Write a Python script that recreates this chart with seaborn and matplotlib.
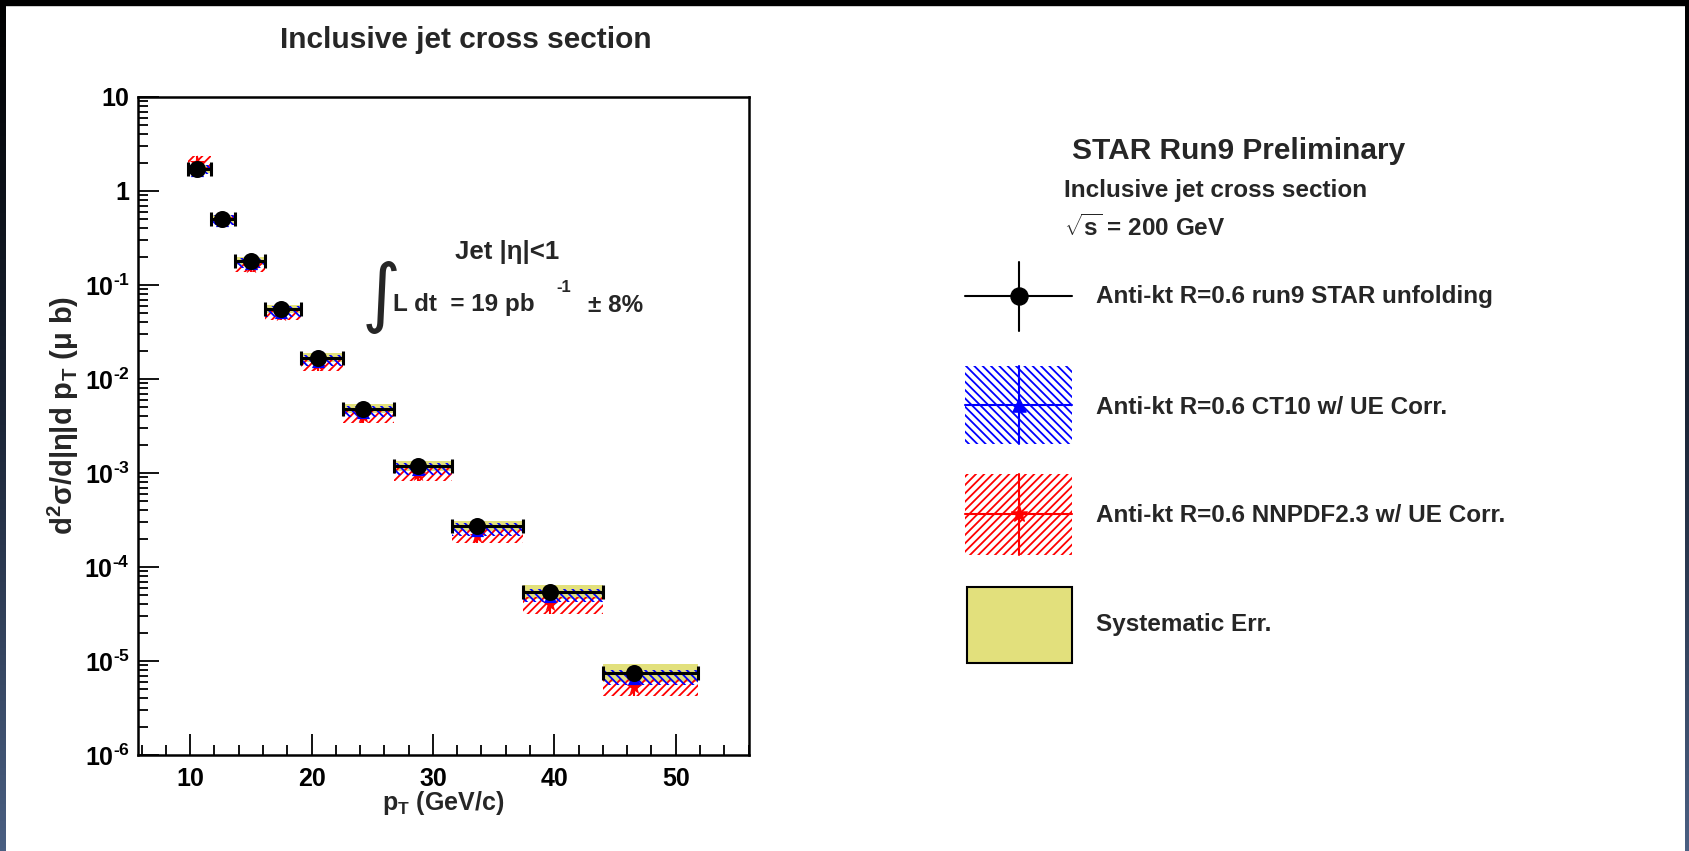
import numpy as np
import matplotlib
matplotlib.use("Agg")
import matplotlib.pyplot as plt
from matplotlib.patches import Rectangle
from matplotlib.colors import LinearSegmentedColormap
from matplotlib.ticker import MultipleLocator, LogLocator, FixedLocator, FuncFormatter, NullFormatter
import seaborn as sns

W, H = 1690, 851

# ── Data ─────────────────────────────────────────────────────────────────────
pt = [10.55, 12.61, 15.0, 17.47, 20.52, 24.23, 28.76, 33.62, 39.64, 46.56]
bin_lo = [9.81, 11.75, 13.72, 16.2, 19.16, 22.62, 26.83, 31.6, 37.38, 43.97]
bin_hi = [11.75, 13.72, 16.2, 19.16, 22.62, 26.83, 31.6, 37.38, 43.97, 51.84]

xsec = [1.71, 0.504, 0.180, 0.0556, 0.0167, 0.0048, 0.00119, 2.73e-4, 5.42e-5, 7.45e-6]
syst_lo = [1.55, 0.46, 0.163, 0.050, 0.0150, 0.0043, 0.00106, 2.40e-4, 4.6e-5, 6.0e-6]
syst_hi = [1.90, 0.56, 0.198, 0.062, 0.0187, 0.0054, 0.00135, 3.10e-4, 6.4e-5, 9.3e-6]

ct10 = [1.68, 0.49, 0.170, 0.052, 0.0156, 0.0045, 0.00110, 2.50e-4, 4.9e-5, 6.6e-6]
ct10_lo = [1.50, 0.44, 0.150, 0.046, 0.0138, 0.0039, 0.00095, 2.15e-4, 4.2e-5, 5.6e-6]
ct10_hi = [1.90, 0.56, 0.195, 0.060, 0.0180, 0.0052, 0.00128, 2.95e-4, 5.9e-5, 8.0e-6]

nnpdf = [2.0, 0.50, 0.160, 0.049, 0.0143, 0.0040, 0.00098, 2.15e-4, 4.0e-5, 5.3e-6]
nnpdf_lo = [1.75, 0.44, 0.138, 0.042, 0.0122, 0.0034, 0.00082, 1.80e-4, 3.2e-5, 4.2e-6]
nnpdf_hi = [2.35, 0.57, 0.183, 0.056, 0.0166, 0.0047, 0.00115, 2.55e-4, 4.8e-5, 6.5e-6]

y_decades = [1e-6, 1e-5, 1e-4, 1e-3, 1e-2, 1e-1, 1, 10]

legend_labels = [
    "Anti-kt R=0.6 run9 STAR unfolding",
    "Anti-kt R=0.6 CT10 w/ UE Corr.",
    "Anti-kt R=0.6 NNPDF2.3 w/ UE Corr.",
    "Systematic Err.",
]

SYST_YELLOW = "#e2e07c"

# ── Style ────────────────────────────────────────────────────────────────────
sns.set_style("ticks")
plt.rcParams["font.family"] = ["Liberation Sans", "DejaVu Sans"]
plt.rcParams["font.weight"] = "bold"
plt.rcParams["mathtext.fontset"] = "custom"
plt.rcParams["mathtext.rm"] = "Liberation Sans:bold"
plt.rcParams["mathtext.it"] = "Liberation Sans:bold"
plt.rcParams["mathtext.bf"] = "Liberation Sans:bold"
plt.rcParams["hatch.linewidth"] = 1.3


def fx(px):
    return px / W


def fy(py):
    return 1 - py / H


fig = plt.figure(figsize=(W / 100, H / 100), dpi=100)
fig.patch.set_facecolor("white")

# background layer in pixel coords: screenshot frame + legend panel
bg = fig.add_axes([0, 0, 1, 1], zorder=0)
bg.set_facecolor("none")
edge_cmap = LinearSegmentedColormap.from_list("edge", ["#000000", "#1c2638", "#4a5f82"])
grad = np.linspace(0, 1, 256)[:, None]
bg.imshow(grad, extent=(0, 6, H, 0), cmap=edge_cmap, aspect="auto")
bg.imshow(grad, extent=(1685, W, H, 0), cmap=edge_cmap, aspect="auto")
bg.add_patch(Rectangle((0, 0), W, 5, color="black"))
bg.set_xlim(0, W)
bg.set_ylim(H, 0)
bg.axis("off")

# ── Main panel ───────────────────────────────────────────────────────────────
ax = fig.add_axes([fx(138), fy(755), fx(749) - fx(138), fy(97) - fy(755)], zorder=2)

lo = np.array(bin_lo)
hi = np.array(bin_hi)
widths = hi - lo
ptv = np.array(pt)

ax.bar(lo, np.array(syst_hi) - np.array(syst_lo), bottom=syst_lo, width=widths,
       align="edge", color=SYST_YELLOW, linewidth=0, zorder=2)
ax.bar(lo, np.array(nnpdf_hi) - np.array(nnpdf_lo), bottom=nnpdf_lo, width=widths,
       align="edge", facecolor="none", edgecolor="red", hatch="////", linewidth=0, zorder=3)
ax.bar(lo, np.array(ct10_hi) - np.array(ct10_lo), bottom=ct10_lo, width=widths,
       align="edge", facecolor="none", edgecolor="blue", hatch="\\\\\\\\", linewidth=0, zorder=3)

ax.errorbar(ptv, nnpdf, yerr=[np.array(nnpdf) - np.array(nnpdf_lo), np.array(nnpdf_hi) - np.array(nnpdf)],
            fmt="none", ecolor="red", elinewidth=1.5, zorder=4)
ax.errorbar(ptv, ct10, yerr=[np.array(ct10) - np.array(ct10_lo), np.array(ct10_hi) - np.array(ct10)],
            fmt="none", ecolor="blue", elinewidth=1.5, zorder=4)
sns.scatterplot(x=pt, y=nnpdf, ax=ax, marker="*", s=140, color="red", edgecolor="red",
                linewidth=0, zorder=5, legend=False)
sns.scatterplot(x=pt, y=ct10, ax=ax, marker="^", s=90, color="blue", edgecolor="blue",
                linewidth=0, zorder=5, legend=False)

ax.errorbar(ptv, xsec, xerr=[ptv - lo, hi - ptv], fmt="none", ecolor="black",
            elinewidth=2.2, capsize=5, capthick=2.2, zorder=6)
sns.scatterplot(x=pt, y=xsec, ax=ax, marker="o", s=150, color="black", edgecolor="black",
                linewidth=0, zorder=7, legend=False)

ax.set_yscale("log")
ax.set_ylim(1e-6, 10)
ax.set_xlim(5.7, 56.04)
ax.set_xlabel("")
ax.set_ylabel("")

ax.xaxis.set_major_locator(MultipleLocator(10))
ax.xaxis.set_minor_locator(MultipleLocator(2))
ax.yaxis.set_major_locator(FixedLocator(y_decades))
ax.yaxis.set_minor_locator(LogLocator(base=10, subs=np.arange(2, 10), numticks=20))
ax.yaxis.set_minor_formatter(NullFormatter())


def ylab(v, pos):
    e = int(round(np.log10(v)))
    if e == 1:
        return "10"
    if e == 0:
        return "1"
    return r"$\mathbf{10^{\text{-}%d}}$" % (-e)


ax.yaxis.set_major_formatter(FuncFormatter(ylab))
ax.tick_params(which="both", direction="in", top=False, right=False, width=1.3,
               colors="black", labelsize=18)
ax.tick_params(which="major", length=15)
ax.tick_params(which="minor", length=7.5)
ax.tick_params(axis="x", which="major", pad=9)
ax.tick_params(axis="y", which="major", pad=6)
for s in ax.spines.values():
    s.set_linewidth(1.8)
    s.set_color("black")

# titles and axis labels
fig.text(fx(466), fy(40), "Inclusive jet cross section", ha="center", va="center",
         fontsize=21.5, fontweight="bold")
fig.text(fx(443), fy(803), r"p$_{T}$ (GeV/c)", ha="center", va="center", fontsize=18)
fig.text(fx(63), fy(415), r"d$^{2}$σ/d|η|d p$_{T}$ (μ b)", ha="center", va="center",
         rotation=90, fontsize=21)

# run info inside the panel
fig.text(fx(507), fy(252), "Jet |η|<1", ha="center", va="center", fontsize=18.5)
fig.text(fx(381), fy(298), "∫", ha="center", va="center", fontsize=54,
         family="DejaVu Sans", fontweight="normal")
fig.text(fx(393), fy(305), "L dt  = 19 pb", ha="left", va="center", fontsize=17.5)
fig.text(fx(564), fy(288), "-1", ha="center", va="center", fontsize=12)
fig.text(fx(588), fy(305), "± 8%", ha="left", va="center", fontsize=17.5)

# ── Legend panel (pixel coordinates on the background layer) ────────────────
fig.text(fx(1072), fy(151), "STAR Run9 Preliminary", ha="left", va="center", fontsize=21.5)
fig.text(fx(1064), fy(190), "Inclusive jet cross section", ha="left", va="center", fontsize=17.5)
fig.text(fx(1064), fy(228), r"$\sqrt{s}$ = 200 GeV", ha="left", va="center", fontsize=17.5)

# entry 1: data
bg.plot([965, 1072], [296, 296], color="black", lw=1.5)
bg.plot([1019, 1019], [262, 331], color="black", lw=1.5)
bg.scatter([1019], [296], s=150, color="black", zorder=5)

# entry 2: CT10
bg.add_patch(Rectangle((965, 366), 107, 78, facecolor="none", edgecolor="blue",
                       hatch="\\\\\\\\", linewidth=0))
bg.plot([965, 1072], [405, 405], color="blue", lw=1.5)
bg.plot([1019, 1019], [366, 444], color="blue", lw=1.5)
bg.scatter([1019], [405], s=90, marker="^", color="blue", zorder=5)

# entry 3: NNPDF
bg.add_patch(Rectangle((965, 474), 107, 81, facecolor="none", edgecolor="red",
                       hatch="////", linewidth=0))
bg.plot([965, 1072], [514, 514], color="red", lw=1.5)
bg.plot([1019, 1019], [474, 555], color="red", lw=1.5)
bg.scatter([1019], [514], s=140, marker="*", color="red", zorder=5)

# entry 4: systematics
bg.add_patch(Rectangle((967, 587), 105, 76, facecolor=SYST_YELLOW, edgecolor="black",
                       linewidth=1.5))

for label, ypx in zip(legend_labels, [296, 407, 515, 625]):
    fig.text(fx(1096), fy(ypx), label, ha="left", va="center", fontsize=17.5)

bg.set_xlim(0, W)
bg.set_ylim(H, 0)

fig.savefig("out.png", dpi=100)
